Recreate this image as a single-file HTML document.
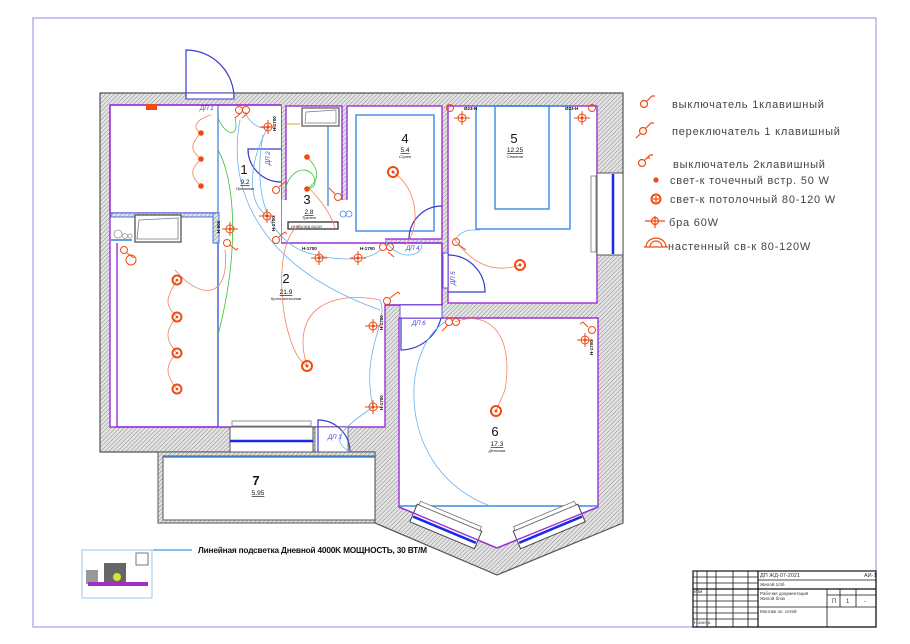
<!DOCTYPE html>
<html><head><meta charset="utf-8"><style>
html,body{margin:0;padding:0;background:#fff;}
svg{display:block;}
text{font-family:"Liberation Sans","DejaVu Sans",sans-serif;}
.lg{font-size:11px;fill:#444;letter-spacing:0.8px;}
</style></head><body>
<svg width="910" height="644" viewBox="0 0 910 644" xmlns="http://www.w3.org/2000/svg">
<defs>
<pattern id="h" patternUnits="userSpaceOnUse" width="3" height="3" patternTransform="rotate(45)">
<rect width="3" height="3" fill="#e4e4e4"/><line x1="0" y1="0" x2="0" y2="3" stroke="#8a8a8a" stroke-width="1"/>
</pattern>
</defs>
<rect x="33" y="18" width="843" height="609" fill="none" stroke="#a6a6f0" stroke-width="1.3"/>

<polygon points="100,93 623,93 623,523 497,575 375,523 375,452 100,452" fill="url(#h)" stroke="#555" stroke-width="1.2"/>

<g fill="#fff" stroke="#9b30d9" stroke-width="1.4">
<rect x="110" y="105" width="171" height="322"/>
<rect x="286" y="106" width="56" height="137"/>
<rect x="347" y="106" width="95" height="133"/>
<rect x="448" y="106" width="149" height="197"/>
<polygon points="399,318 598,318 598,507 497,548 399,507"/>
</g>
<rect x="218" y="243" width="224" height="62" fill="#fff" stroke="#9b30d9" stroke-width="1.4"/>
<rect x="218" y="200" width="167" height="227" fill="#fff" stroke="none"/>
<path d="M281,106 V243 H442 V305 H385 V427 H218" fill="none" stroke="#9b30d9" stroke-width="1.4"/>
<rect x="111" y="106" width="170" height="320" fill="#fff" stroke="none"/>
<path d="M110,105 H281" stroke="#9b30d9" stroke-width="1.4"/>
<path d="M110,105 V213 H218" fill="none" stroke="#9b30d9" stroke-width="1.4"/>
<path d="M117,243 V427 H218 V213" fill="none" stroke="#9b30d9" stroke-width="1.4"/>
<line x1="218" y1="105" x2="218" y2="427" stroke="#3a78e0" stroke-width="1.2"/>
<rect x="111" y="213" width="106" height="30" fill="#fff"/>
<rect x="111" y="213" width="106" height="4" fill="url(#h)" stroke="#3a78e0" stroke-width="1"/>
<line x1="111" y1="240" x2="132" y2="240" stroke="#3a78e0" stroke-width="1.5"/>
<rect x="135" y="215" width="46" height="27" fill="#fff" stroke="#555" stroke-width="1.3"/>
<polygon points="139,220 178,218 178,239 137,239" fill="none" stroke="#777" stroke-width="0.8"/>
<circle cx="118" cy="234" r="4" fill="none" stroke="#999" stroke-width="0.8"/><circle cx="125" cy="236" r="2.5" fill="none" stroke="#999" stroke-width="0.8"/><circle cx="130" cy="236" r="2" fill="none" stroke="#999" stroke-width="0.8"/>
<rect x="213" y="213" width="6" height="30" fill="url(#h)" stroke="#3a78e0" stroke-width="1"/>

<rect x="400" y="305" width="42" height="13" fill="#fff" stroke="#3a3ad0" stroke-width="0.8"/>
<rect x="443" y="253" width="5" height="35" fill="#fff" stroke="#3a3ad0" stroke-width="0.8"/>

<rect x="302" y="108" width="37" height="18" fill="#fff" stroke="#555" stroke-width="1.2"/>
<polygon points="306,112 336,110 336,123 305,123" fill="none" stroke="#777" stroke-width="0.7"/>
<line x1="286" y1="124" x2="300" y2="124" stroke="#e8a030" stroke-width="1"/>
<line x1="328" y1="126" x2="328" y2="206" stroke="#3a8ae0" stroke-width="1.3"/>
<rect x="288" y="222" width="50" height="7" fill="#fff" stroke="#222" stroke-width="1.2"/>
<text x="291" y="228" font-size="4" fill="#333">ИНВАЛИД БАЗИ</text>
<circle cx="343" cy="214" r="3" fill="none" stroke="#3a8ae0" stroke-width="0.8"/><circle cx="349" cy="214" r="3" fill="none" stroke="#3a8ae0" stroke-width="0.8"/>
<rect x="356" y="115" width="78" height="116" fill="none" stroke="#3a8ae0" stroke-width="1.4"/>
<rect x="476" y="106" width="94" height="123" fill="none" stroke="#3a8ae0" stroke-width="1.4"/>
<rect x="495" y="106" width="54" height="103" fill="none" stroke="#3a8ae0" stroke-width="1.4"/>
<line x1="399" y1="506" x2="598" y2="506" stroke="#3a8ae0" stroke-width="1.4"/>

<rect x="597" y="173" width="26" height="82" fill="#fff" stroke="#555" stroke-width="1"/>
<rect x="591" y="176" width="5" height="76" fill="#fff" stroke="#777" stroke-width="0.8"/>
<line x1="613" y1="174" x2="613" y2="254" stroke="#1a2ae8" stroke-width="2.5"/>
<rect x="230" y="427" width="83" height="25" fill="#fff" stroke="#555" stroke-width="1"/>
<rect x="232" y="421" width="79" height="5" fill="#fff" stroke="#777" stroke-width="0.8"/>
<line x1="230" y1="441" x2="313" y2="441" stroke="#1a2ae8" stroke-width="2.5"/>
<rect x="315" y="427" width="33" height="25" fill="#fff" stroke="#555" stroke-width="0.8"/>
<g transform="translate(446,526) rotate(22.7)">
<rect x="-35" y="-9" width="70" height="19" fill="#fff" stroke="#444" stroke-width="1"/>
<rect x="-33" y="-13" width="66" height="4" fill="#fff" stroke="#777" stroke-width="0.8"/>
<line x1="-34" y1="4" x2="34" y2="4" stroke="#1a2ae8" stroke-width="2.5"/>
</g>
<g transform="translate(549,526) rotate(-22.7)">
<rect x="-35" y="-9" width="70" height="19" fill="#fff" stroke="#444" stroke-width="1"/>
<rect x="-33" y="-13" width="66" height="4" fill="#fff" stroke="#777" stroke-width="0.8"/>
<line x1="-34" y1="4" x2="34" y2="4" stroke="#1a2ae8" stroke-width="2.5"/>
</g>
<polyline points="399,507 497,548 598,507" fill="none" stroke="#9b30d9" stroke-width="1.4"/>

<rect x="158" y="452" width="217" height="71" fill="url(#h)" stroke="#555" stroke-width="1"/>
<rect x="163" y="456" width="212" height="64" fill="#fff" stroke="#555" stroke-width="1"/>
<line x1="163" y1="457" x2="375" y2="457" stroke="#3a8ae0" stroke-width="1.5"/>

<rect x="186" y="93" width="48" height="6" fill="#fff" stroke="#3a3ad0" stroke-width="1"/>
<path d="M186,99 V50 A48,48 0 0 1 234,99" fill="none" stroke="#3a3ad0" stroke-width="1.2"/>

<g fill="none" stroke="#3a3ad0" stroke-width="1.2">
<path d="M281,149 H248 A33,33 0 0 0 281,182"/>
<path d="M442,206 A33,33 0 0 0 409,239"/>
<path d="M448,255 A37,37 0 0 1 485,292 H448"/>
<path d="M401,318 V350 A42,42 0 0 0 441,318"/>
<path d="M318,452 V420 A32,32 0 0 1 350,452"/>
</g>
<g font-size="6" fill="#3a3ad0" font-style="italic">
<text x="200" y="110">ДП 1</text><text x="406" y="250">ДП 4</text><text x="412" y="325">ДП 6</text><text x="328" y="439">ДП 3</text>
<text x="270" y="165" transform="rotate(-90 270 165)">ДП 2</text>
<text x="455" y="285" transform="rotate(-90 455 285)">ДП 5</text>
</g>

<g fill="none" stroke-width="0.8">
<path d="M201,133 C190,145 190,150 201,159 C190,170 190,176 201,186" stroke="#f08060"/>
<path d="M211,115 C195,120 192,128 201,133" stroke="#f08060"/>
<path d="M218,118 C225,135 240,140 235,117" stroke="#3bbf3b"/>
<path d="M218,150 C235,180 240,250 218,335" stroke="#3bbf3b"/>
<path d="M285,190 C290,170 305,165 313,175 C320,190 306,188 307,189" stroke="#3bbf3b"/>
<path d="M307,157 C320,170 320,180 307,189" stroke="#3bbf3b"/>
<path d="M245,112 C250,125 262,130 268,127" stroke="#6ab0f0"/>
<path d="M268,127 C250,160 245,200 267,216" stroke="#6ab0f0"/>
<path d="M240,120 C230,170 240,260 380,310" stroke="#6ab0f0"/>
<path d="M263,135 C255,180 260,230 300,250 C330,262 370,262 380,250" stroke="#6ab0f0"/>
<path d="M380,300 C390,320 360,350 373,407" stroke="#6ab0f0"/>
<path d="M373,407 C340,430 330,440 350,452" stroke="#6ab0f0"/>
<path d="M385,240 C400,265 430,255 420,238" stroke="#6ab0f0"/>
<path d="M175,270 C200,300 230,300 225,250" stroke="#f08060"/>
<path d="M177,280 C165,300 165,305 177,317 C165,330 165,340 177,353 C165,365 165,375 177,389" stroke="#f08060"/>
<path d="M307,366 C280,350 270,240 300,225" stroke="#f08060"/>
<path d="M307,366 C290,310 330,290 380,300" stroke="#f08060"/>
<path d="M393,172 C420,190 420,230 405,245" stroke="#f08060"/>
<path d="M310,189 C325,205 332,218 335,228" stroke="#f08060"/>
<path d="M520,265 C490,275 470,260 455,240" stroke="#f08060"/>
<path d="M455,240 C462,228 475,230 480,230" stroke="#6ab0f0"/>
<path d="M455,322 C485,310 515,330 505,390 L496,411" stroke="#f08060"/>
<path d="M445,322 C400,350 395,470 490,506" stroke="#6ab0f0"/>
</g>

<g fill="none" stroke="#f04a10" stroke-width="2">
<circle cx="393" cy="172" r="5"/><circle cx="520" cy="265" r="5"/><circle cx="496" cy="411" r="5"/><circle cx="307" cy="366" r="5"/>
<circle cx="177" cy="280" r="4.5"/><circle cx="177" cy="317" r="4.5"/><circle cx="177" cy="353" r="4.5"/><circle cx="177" cy="389" r="4.5"/>
</g>
<g fill="#f04a10"><circle cx="393" cy="172" r="1.5"/><circle cx="520" cy="265" r="1.5"/><circle cx="496" cy="411" r="1.5"/><circle cx="307" cy="366" r="1.5"/><circle cx="177" cy="280" r="1.3"/><circle cx="177" cy="317" r="1.3"/><circle cx="177" cy="353" r="1.3"/><circle cx="177" cy="389" r="1.3"/>
<circle cx="201" cy="133" r="2.8"/><circle cx="201" cy="159" r="2.8"/><circle cx="201" cy="186" r="2.8"/><circle cx="307" cy="157" r="2.8"/><circle cx="307" cy="189" r="2.8"/>
<rect x="146" y="104" width="11" height="6"/></g>

<g fill="none" stroke="#f04a10" stroke-width="1">
<g transform="translate(268,127)"><circle r="4"/><line x1="-8" x2="8"/><line y1="-7" y2="7"/><circle r="1" fill="#f04a10"/></g>
<g transform="translate(267,216)"><circle r="4"/><line x1="-8" x2="8"/><line y1="-7" y2="7"/><circle r="1" fill="#f04a10"/></g>
<g transform="translate(230,229)"><circle r="4"/><line x1="-8" x2="8"/><line y1="-7" y2="7"/><circle r="1" fill="#f04a10"/></g>
<g transform="translate(319,258)"><circle r="4"/><line x1="-8" x2="8"/><line y1="-7" y2="7"/><circle r="1" fill="#f04a10"/></g>
<g transform="translate(358,258)"><circle r="4"/><line x1="-8" x2="8"/><line y1="-7" y2="7"/><circle r="1" fill="#f04a10"/></g>
<g transform="translate(373,326)"><circle r="4"/><line x1="-8" x2="8"/><line y1="-7" y2="7"/><circle r="1" fill="#f04a10"/></g>
<g transform="translate(373,407)"><circle r="4"/><line x1="-8" x2="8"/><line y1="-7" y2="7"/><circle r="1" fill="#f04a10"/></g>
<g transform="translate(462,118)"><circle r="4"/><line x1="-8" x2="8"/><line y1="-7" y2="7"/><circle r="1" fill="#f04a10"/></g>
<g transform="translate(582,118)"><circle r="4"/><line x1="-8" x2="8"/><line y1="-7" y2="7"/><circle r="1" fill="#f04a10"/></g>
<g transform="translate(585,340)"><circle r="4"/><line x1="-8" x2="8"/><line y1="-7" y2="7"/><circle r="1" fill="#f04a10"/></g>
</g>

<g fill="none" stroke="#f04a10" stroke-width="1">
<circle cx="239" cy="110" r="3.5"/><circle cx="246" cy="110" r="3.5"/><path d="M235,118 l6,-5 M242,118 l6,-5"/>
<circle cx="276" cy="190" r="3.5"/><path d="M279,187 l6,-5 l2,2"/>
<circle cx="276" cy="240" r="3.5"/><path d="M279,237 l6,-5 l2,2"/>
<circle cx="227" cy="243" r="3.5"/><path d="M230,245 l6,5 l2,-2"/>
<circle cx="338" cy="197" r="3.5"/><path d="M335,194 l-6,-6"/>
<circle cx="383" cy="247" r="3.5"/><circle cx="390" cy="247" r="3.5"/><path d="M388,252 l6,5"/>
<circle cx="387" cy="301" r="3.5"/><path d="M390,298 l8,-6 l2,2"/>
<circle cx="124" cy="250" r="3.5"/><path d="M127,253 l7,5"/><circle cx="131" cy="260" r="5"/>
<circle cx="456" cy="242" r="3.5"/><path d="M459,245 l7,5"/>
<circle cx="450" cy="108" r="3.5"/><circle cx="592" cy="108" r="3.5"/>
<circle cx="449" cy="322" r="3.5"/><circle cx="456" cy="322" r="3.5"/><path d="M442,331 l6,-6"/>
<circle cx="592" cy="330" r="3.5"/><path d="M588,327 l-5,-5 l-3,2"/>
</g>
<g font-size="4.5" fill="#111" font-weight="bold">
<text x="276" y="131" transform="rotate(-90 276 131)">H-1700</text>
<text x="275" y="231" transform="rotate(-90 275 231)">H-1700</text>
<text x="220" y="233" transform="rotate(-90 220 233)">H-900</text>
<text x="302" y="250">H-1700</text><text x="360" y="250">H-1700</text>
<text x="383" y="330" transform="rotate(-90 383 330)">H-1700</text>
<text x="383" y="410" transform="rotate(-90 383 410)">H-1700</text>
<text x="593" y="355" transform="rotate(-90 593 355)">H-1700</text>
<text x="464" y="110">Ø23-Н</text><text x="565" y="110">Ø23-Н</text>
</g>

<g text-anchor="middle" fill="#111">
<text x="244" y="174" font-size="13">1</text><text x="245" y="184" font-size="6.5" text-decoration="underline">9.2</text><text x="245" y="190" font-size="4" font-style="italic">Прихожая</text>
<text x="286" y="283" font-size="13">2</text><text x="286" y="294" font-size="6.5" text-decoration="underline">21.9</text><text x="286" y="300" font-size="4" font-style="italic">Кухня-гостиная</text>
<text x="307" y="204" font-size="13">3</text><text x="309" y="214" font-size="6.5" text-decoration="underline">2.8</text><text x="309" y="219" font-size="4" font-style="italic">Туалет</text>
<text x="405" y="143" font-size="13">4</text><text x="405" y="152" font-size="6.5" text-decoration="underline">5.4</text><text x="405" y="158" font-size="4" font-style="italic">С/узел</text>
<text x="514" y="143" font-size="13">5</text><text x="515" y="152" font-size="6.5" text-decoration="underline">12.25</text><text x="515" y="158" font-size="4" font-style="italic">Спальня</text>
<text x="495" y="436" font-size="13">6</text><text x="497" y="446" font-size="6.5" text-decoration="underline">17.3</text><text x="497" y="452" font-size="4" font-style="italic">Детская</text>
<text x="256" y="485" font-size="13" font-weight="bold">7</text><text x="258" y="495" font-size="6.5" text-decoration="underline">5.95</text>
</g>

<g fill="none" stroke="#f04a10" stroke-width="1.2">
<circle cx="644" cy="104" r="3.5"/><path d="M647,101 l5,-5 l3,0"/>
<circle cx="643" cy="131" r="3.5"/><path d="M646,128 l5,-5 l3,0 M640,134 l-4,4"/>
<circle cx="642" cy="163" r="3.5"/><path d="M645,160 l5,-5 l3,0 M647,158 l3,0"/>
<circle cx="656" cy="180" r="2" fill="#f04a10"/>
<circle cx="656" cy="199" r="4.5" stroke-width="2"/><path d="M656,196 v6 M653,199 h6" />
<circle cx="655" cy="221" r="3.5"/><path d="M645,221 h20 M655,216 v12"/>
<path d="M646,247 A9,8 0 0 1 666,247 M650,247 A5,5 0 0 1 662,247 M644,247 h24"/>
</g>
<text class="lg" x="672" y="108">выключатель 1клавишный</text>
<text class="lg" x="672" y="135">переключатель 1 клавишный</text>
<text class="lg" x="673" y="168">выключатель 2клавишный</text>
<text class="lg" x="670" y="184">свет-к точечный встр. 50 W</text>
<text class="lg" x="670" y="203">свет-к потолочный 80-120 W</text>
<text class="lg" x="669" y="226">бра 60W</text>
<text class="lg" x="668" y="250">настенный св-к 80-120W</text>

<rect x="82" y="550" width="70" height="48" fill="#fff" stroke="#9cc8ee" stroke-width="1"/>
<rect x="86" y="570" width="12" height="14" fill="#999"/><rect x="104" y="563" width="22" height="20" fill="#666"/>
<rect x="88" y="582" width="60" height="4" fill="#a030c0"/><rect x="136" y="553" width="12" height="12" fill="none" stroke="#777"/>
<circle cx="117" cy="577" r="4" fill="#dde030"/>
<line x1="153" y1="550" x2="192" y2="550" stroke="#3a9ae0" stroke-width="1.3"/>
<text x="198" y="553" font-size="8.3" fill="#111" font-weight="bold" letter-spacing="-0.2">Линейная подсветка Дневной 4000K  МОЩНОСТЬ, 30 ВТ/М</text>

<g stroke="#111" stroke-width="0.8" fill="none">
<rect x="693" y="571" width="183" height="56" stroke-width="1.2"/>
<line x1="758" y1="571" x2="758" y2="627" stroke-width="1.2"/>
<line x1="697" y1="571" x2="697" y2="627"/><line x1="707" y1="571" x2="707" y2="627"/><line x1="716" y1="571" x2="716" y2="627"/><line x1="733" y1="571" x2="733" y2="627"/><line x1="748" y1="571" x2="748" y2="627"/>
<line x1="693" y1="577" x2="758" y2="577"/><line x1="693" y1="583" x2="758" y2="583"/><line x1="693" y1="589" x2="876" y2="589" stroke-width="1.2"/><line x1="693" y1="595" x2="758" y2="595"/><line x1="693" y1="601" x2="758" y2="601"/><line x1="693" y1="607" x2="876" y2="607"/><line x1="693" y1="613" x2="758" y2="613"/><line x1="693" y1="619" x2="758" y2="619"/>
<line x1="758" y1="580" x2="876" y2="580"/>
<line x1="827" y1="589" x2="827" y2="627"/><line x1="827" y1="595" x2="876" y2="595"/><line x1="840" y1="589" x2="840" y2="607"/><line x1="856" y1="589" x2="856" y2="607"/>
</g>
<g font-size="4.5" fill="#333">
<text x="760" y="577" font-size="5.5">ДП ЖД-07-2021</text><text x="864" y="577" font-size="5.5">АИ-1</text>
<text x="760" y="586">Жилой 1/4б</text><text x="760" y="595">Рабочая документация</text><text x="760" y="600">Жилой блок</text>
<text x="760" y="613">Монтаж эл. сетей</text>
<text x="832" y="603" font-size="6">П</text><text x="846" y="603" font-size="6">1</text><text x="864" y="603" font-size="6">-</text>
<text x="694" y="624">Н.контр.</text><text x="694" y="593">Изм</text>
</g>
</svg>
</body></html>
